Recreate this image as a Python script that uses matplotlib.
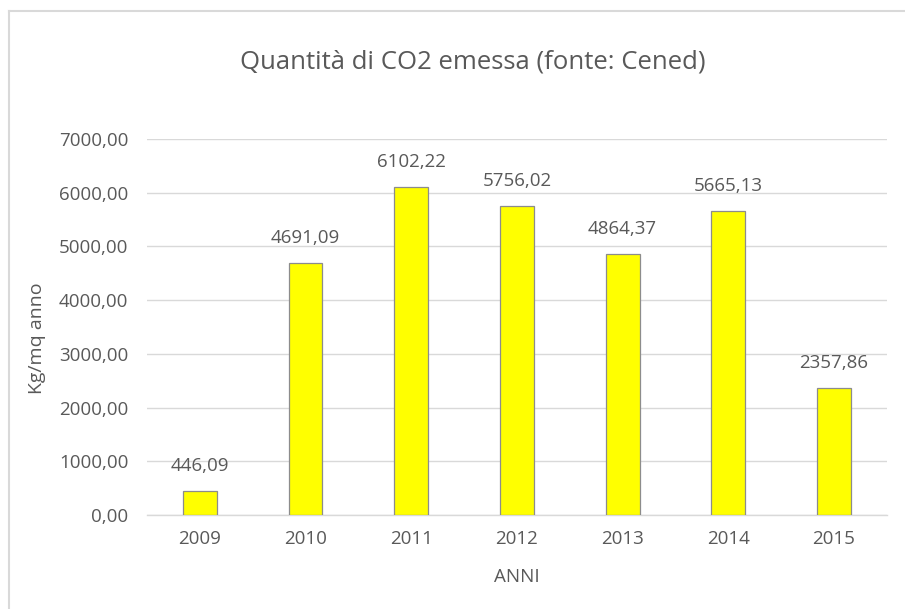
import matplotlib.pyplot as plt
from matplotlib.lines import Line2D

years = ['2009', '2010', '2011', '2012', '2013', '2014', '2015']
co2 = [446.09, 4691.09, 6102.22, 5756.02, 4864.37, 5665.13, 2357.86]
y_ticks = [0, 1000, 2000, 3000, 4000, 5000, 6000, 7000]

plt.rcParams['font.family'] = ['Open Sans', 'DejaVu Sans']
TXT = '#595959'

fig = plt.figure(figsize=(9.05, 6.09), dpi=100)
ax = fig.add_axes([0.1624, 0.154, 0.8176, 0.618])

x = range(len(years))
ax.bar(x, co2, width=0.32, color='#ffff00', edgecolor='#8c8c8c', linewidth=0.9, zorder=3)

for i, v in enumerate(co2):
    ax.annotate(f'{v:.2f}'.replace('.', ','), (i, v), xytext=(0, 25), textcoords='offset pixels',
                ha='center', va='center', fontsize=13.5, color=TXT)

ax.set_xlim(-0.5, len(years) - 0.5)
ax.set_ylim(0, 7000)
ax.set_xticks(list(x))
ax.set_xticklabels(years)
ax.set_yticks(y_ticks)
ax.set_yticklabels([f'{t:.2f}'.replace('.', ',') for t in y_ticks])
ax.tick_params(length=0, labelsize=13.5, labelcolor=TXT)
ax.tick_params(axis='y', pad=13.5)
ax.tick_params(axis='x', pad=11)
ax.grid(axis='y', color='#d9d9d9', linewidth=1, zorder=0)
for s in ['top', 'right', 'left']:
    ax.spines[s].set_visible(False)
ax.spines['bottom'].set_color('#d9d9d9')
ax.spines['bottom'].set_linewidth(1)

ax.set_xlabel('ANNI', fontsize=13.5, color=TXT, labelpad=14)
ax.set_ylabel('Kg/mq anno', fontsize=14, color=TXT, va='center')
ax.yaxis.set_label_coords(-0.149, 0.47)

fig.text(0.522, 0.898, 'Quantità di CO2 emessa (fonte: Cened)', ha='center', va='center',
         fontsize=18.5, color=TXT)

# chart border (left and top edges visible)
fig.add_artist(Line2D([9/905, 9/905], [0, 1 - 11/609], transform=fig.transFigure, color='#d9d9d9', lw=1.5))
fig.add_artist(Line2D([9/905, 1], [1 - 11/609, 1 - 11/609], transform=fig.transFigure, color='#d9d9d9', lw=1.5))

fig.savefig('out.png', dpi=100)
